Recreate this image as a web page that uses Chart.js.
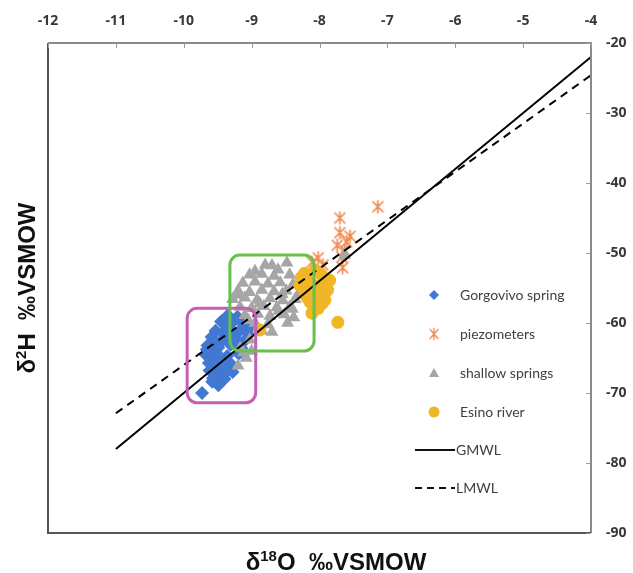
<!DOCTYPE html>
<html><head><meta charset="utf-8">
<script src="https://cdn.jsdelivr.net/npm/chart.js@4"></script>
<style>html,body{margin:0;padding:0;background:#fff}</style>
</head><body>
<canvas id="c" width="633" height="573"></canvas>
<script>
// ---- data ----
const xTicks = [-12, -11, -10, -9, -8, -7, -6, -5, -4];
const yTicks = [-20, -30, -40, -50, -60, -70, -80, -90];
const seriesNames = ['Gorgovivo spring', 'piezometers', 'shallow springs', 'Esino river', 'GMWL', 'LMWL'];
const gorgovivo = [
  [-9.35,-58.9],[-9.21,-59.1],[-9.14,-59.7],[-9.45,-59.8],[-9.29,-60.0],[-9.12,-60.2],
  [-9.53,-61.1],[-9.37,-60.9],[-9.19,-61.2],[-9.04,-60.8],[-9.40,-61.7],[-9.27,-61.5],[-9.05,-61.6],
  [-9.59,-62.0],[-9.42,-62.3],[-9.25,-62.0],[-9.09,-62.4],[-9.47,-62.8],[-9.22,-63.0],
  [-9.65,-63.2],[-9.49,-63.5],[-9.31,-63.1],[-9.15,-63.6],[-9.55,-63.9],[-9.66,-63.8],
  [-9.68,-64.5],[-9.52,-64.3],[-9.36,-64.7],[-9.19,-64.4],[-9.60,-65.0],[-9.38,-65.2],
  [-9.63,-65.7],[-9.47,-65.5],[-9.30,-65.9],[-9.33,-66.2],[-9.55,-66.2],
  [-9.62,-66.8],[-9.45,-66.6],[-9.28,-67.0],[-9.50,-67.3],[-9.42,-67.5],
  [-9.57,-67.9],[-9.40,-68.0],[-9.58,-68.4],[-9.49,-68.9],
  [-9.73,-70.0]
];
const piezometers = [
  [-7.14,-43.4],[-7.70,-45.0],[-7.70,-47.1],[-7.55,-47.6],[-7.74,-48.9],[-7.60,-48.4],
  [-7.63,-49.6],[-7.67,-50.6],[-7.95,-51.7],[-7.66,-52.1],[-8.11,-51.3],[-8.02,-50.7]
];
const shallowSprings = [
  [-8.80,-51.7],[-8.48,-51.4],[-8.61,-52.4],[-8.95,-52.6],[-8.70,-51.8],
  [-9.03,-53.1],[-8.85,-53.0],[-8.67,-53.3],[-8.44,-53.1],
  [-9.13,-54.3],[-8.95,-54.1],[-8.76,-54.4],[-8.58,-54.2],[-8.39,-54.5],
  [-9.20,-55.4],[-9.03,-55.6],[-8.85,-55.3],[-8.67,-55.5],[-8.49,-55.4],[-9.20,-56.0],[-8.55,-55.9],[-8.32,-56.0],
  [-9.28,-56.6],[-9.10,-56.4],[-8.92,-56.7],[-8.73,-56.5],[-8.54,-56.8],[-8.36,-56.6],[-8.88,-57.2],
  [-9.17,-57.7],[-9.00,-57.9],[-8.82,-57.6],[-8.63,-57.8],[-8.44,-57.7],[-8.60,-58.3],[-8.40,-58.0],
  [-9.10,-58.9],[-8.91,-58.7],[-8.73,-59.0],[-8.52,-58.8],[-8.38,-59.2],[-9.05,-59.6],
  [-8.95,-60.0],[-8.76,-60.2],[-8.47,-60.0],[-8.85,-61.1],[-8.70,-61.3],
  [-9.03,-62.4],[-9.17,-63.6],[-9.00,-64.0],[-9.12,-64.2],[-9.08,-65.0],[-9.20,-66.1],
  [-7.63,-50.3]
];
const esinoRiver = [
  [-8.22,-52.9],[-8.07,-52.4],[-7.97,-53.1],[-8.14,-54.1],[-7.99,-54.6],[-8.27,-53.5],[-8.18,-53.6],
  [-7.88,-55.3],[-8.22,-55.3],[-8.07,-56.0],[-7.92,-56.7],[-8.14,-57.0],[-7.93,-54.2],[-8.03,-55.4],
  [-8.02,-57.9],[-8.11,-58.6],[-7.85,-53.9],[-8.29,-54.6],[-8.19,-56.3],[-7.96,-57.2],
  [-7.73,-59.9],[-8.88,-61.0]
];
const gmwl = [[-11, -78], [-4, -22]];
const lmwl = [[-11, -72.9], [-4, -24.6]];
// highlight boxes: [xMin, xMax, yTop, yBottom]
const boxMagenta = [-9.95, -8.94, -57.9, -71.4];
const boxGreen = [-9.32, -8.08, -50.3, -64.0];

const toPts = a => a.map(p => ({x: p[0], y: p[1]}));

function starCanvas(color) {
  const c = document.createElement('canvas');
  c.width = 15; c.height = 15;
  const g = c.getContext('2d');
  g.strokeStyle = color; g.lineWidth = 1.7; g.lineCap = 'round';
  g.beginPath();
  g.moveTo(2.5, 2.5); g.lineTo(12.5, 12.5);
  g.moveTo(12.5, 2.5); g.lineTo(2.5, 12.5);
  g.moveTo(7.5, 1.5); g.lineTo(7.5, 13.5);
  g.stroke();
  return c;
}
const COL = {blue:'#4178d2', orange:'#ee8a4f', gray:'#a6a6a6', gold:'#f1b626', magenta:'#c45fb5', green:'#68c04c'};
const starImg = starCanvas(COL.orange);

const decor = {
  id: 'decor',
  afterDatasetsDraw(chart) {
    const ctx = chart.ctx, xs = chart.scales.x, ys = chart.scales.y, a = chart.chartArea;
    ctx.save();
    function box(b, color) {
      const x1 = xs.getPixelForValue(b[0]), x2 = xs.getPixelForValue(b[1]);
      const y1 = ys.getPixelForValue(b[2]), y2 = ys.getPixelForValue(b[3]);
      ctx.strokeStyle = color; ctx.lineWidth = 3;
      ctx.beginPath();
      ctx.roundRect(x1, y1, x2 - x1, y2 - y1, 10);
      ctx.stroke();
    }
    box(boxMagenta, COL.magenta);
    box(boxGreen, COL.green);
    // frame
    ctx.lineWidth = 2;
    ctx.strokeStyle = '#8a8a8a';
    ctx.beginPath();
    ctx.moveTo(a.left, a.top); ctx.lineTo(a.right, a.top); ctx.lineTo(a.right, a.bottom);
    ctx.stroke();
    ctx.strokeStyle = '#555';
    ctx.beginPath();
    ctx.moveTo(a.left, a.top); ctx.lineTo(a.left, a.bottom); ctx.lineTo(a.right, a.bottom);
    ctx.stroke();
    // inward ticks
    ctx.strokeStyle = '#9a9a9a'; ctx.lineWidth = 1;
    ctx.beginPath();
    xTicks.forEach(v => { const x = Math.round(xs.getPixelForValue(v)) + 0.5; ctx.moveTo(x, a.top); ctx.lineTo(x, a.top + 5); });
    yTicks.forEach(v => { const y = Math.round(ys.getPixelForValue(v)) + 0.5; ctx.moveTo(a.right, y); ctx.lineTo(a.right - 5, y); });
    ctx.stroke();
    // legend
    const lx = 434, tx = 460, rows = [295, 334, 373, 412, 450, 488];
    ctx.fillStyle = COL.blue;
    ctx.beginPath(); ctx.moveTo(lx, rows[0]-5); ctx.lineTo(lx+5, rows[0]); ctx.lineTo(lx, rows[0]+5); ctx.lineTo(lx-5, rows[0]); ctx.closePath(); ctx.fill();
    ctx.drawImage(starImg, lx - 6, rows[1] - 7, 12, 14);
    ctx.fillStyle = COL.gray;
    ctx.beginPath(); ctx.moveTo(lx, rows[2]-5); ctx.lineTo(lx+5, rows[2]+4); ctx.lineTo(lx-5, rows[2]+4); ctx.closePath(); ctx.fill();
    ctx.fillStyle = COL.gold;
    ctx.beginPath(); ctx.arc(lx, rows[3], 5.5, 0, Math.PI*2); ctx.fill();
    ctx.strokeStyle = '#111'; ctx.lineWidth = 2;
    ctx.beginPath(); ctx.moveTo(415, rows[4]); ctx.lineTo(455, rows[4]); ctx.stroke();
    ctx.setLineDash([7, 5]);
    ctx.beginPath(); ctx.moveTo(415, rows[5]); ctx.lineTo(455, rows[5]); ctx.stroke();
    ctx.setLineDash([]);
    ctx.font = '14px Lato';
    ctx.fillStyle = '#404040';
    ctx.textBaseline = 'middle';
    ctx.textAlign = 'left';
    for (let i = 0; i < 4; i++) ctx.fillText(seriesNames[i], tx, rows[i]);
    ctx.fillText(seriesNames[4], 456, rows[4]);
    ctx.fillText(seriesNames[5], 456, rows[5]);
    // axis titles
    function supText(parts, cx, cy, rot) {
      ctx.save();
      ctx.translate(cx, cy);
      if (rot) ctx.rotate(-Math.PI / 2);
      const big = 'bold 24px "Liberation Sans"', small = 'bold 15px "Liberation Sans"';
      let w = 0;
      parts.forEach(p => { ctx.font = p.s ? small : big; w += ctx.measureText(p.t).width; });
      let x = -w / 2;
      ctx.fillStyle = '#111';
      ctx.textBaseline = 'alphabetic'; ctx.textAlign = 'left';
      parts.forEach(p => { ctx.font = p.s ? small : big; ctx.fillText(p.t, x, p.s ? 0 : 8.5); x += ctx.measureText(p.t).width; });
      ctx.restore();
    }
    supText([{t:'δ'},{t:'18',s:1},{t:'O  ‰VSMOW'}], 336, 561, false);
    supText([{t:'δ'},{t:'2',s:1},{t:'H  ‰VSMOW'}], 26, 288, true);
    ctx.restore();
  }
};

new Chart(document.getElementById('c'), {
  type: 'scatter',
  data: {
    datasets: [
      {label: seriesNames[4], data: toPts(gmwl), showLine: true, borderColor: '#000', borderWidth: 2, pointRadius: 0, order: 0},
      {label: seriesNames[5], data: toPts(lmwl), showLine: true, borderColor: '#000', borderWidth: 2, borderDash: [8, 6], pointRadius: 0, order: 1},
      {label: seriesNames[3], data: toPts(esinoRiver), pointStyle: 'circle', pointRadius: 6.5, backgroundColor: COL.gold, borderWidth: 0, order: 2},
      {label: seriesNames[2], data: toPts(shallowSprings), pointStyle: 'triangle', pointRadius: 7.5, backgroundColor: COL.gray, borderWidth: 0, order: 3},
      {label: seriesNames[1], data: toPts(piezometers), pointStyle: starImg, pointRadius: 7, order: 4},
      {label: seriesNames[0], data: toPts(gorgovivo), pointStyle: 'rectRot', pointRadius: 7, backgroundColor: COL.blue, borderWidth: 0, order: 5}
    ]
  },
  options: {
    responsive: false,
    devicePixelRatio: 1,
    animation: false,
    layout: {padding: {left: 48, bottom: 40, top: 0, right: 0}},
    plugins: {legend: {display: false}, tooltip: {enabled: false}},
    scales: {
      x: {
        type: 'linear', position: 'top', min: -12, max: -4,
        afterBuildTicks: s => { s.ticks = xTicks.map(v => ({value: v})); },
        afterFit: s => { s.height = 43; },
        grid: {display: false, drawTicks: false},
        border: {display: false},
        ticks: {padding: 14, color: '#383838', font: {family: 'Open Sans', size: 14, weight: 'bold'}}
      },
      y: {
        type: 'linear', position: 'right', min: -90, max: -20,
        afterBuildTicks: s => { s.ticks = yTicks.map(v => ({value: v})); },
        afterFit: s => { s.width = 42; },
        grid: {display: false, drawTicks: false},
        border: {display: false},
        ticks: {padding: 15, color: '#383838', font: {family: 'Open Sans', size: 14, weight: 'bold'}}
      }
    }
  },
  plugins: [decor]
});
</script>
</body></html>
